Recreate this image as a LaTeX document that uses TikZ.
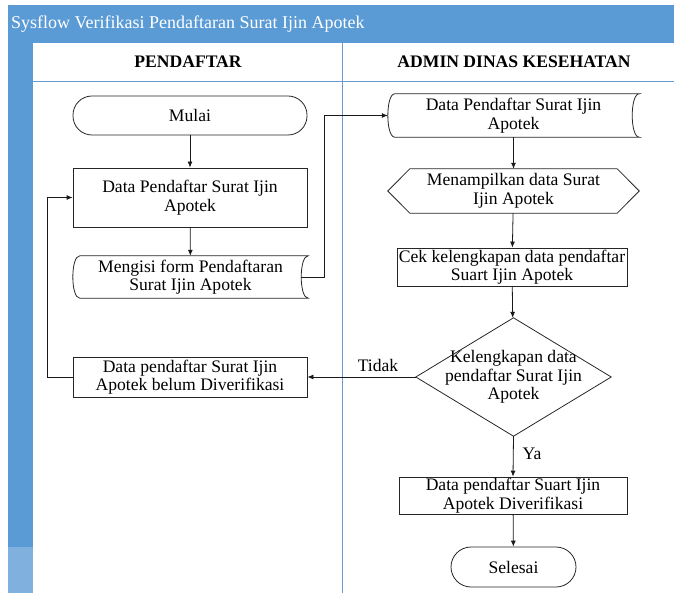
\documentclass[tikz,border=0pt]{standalone}
\usepackage{fontspec}
\setmainfont{Liberation Serif}
\usetikzlibrary{arrows.meta,calc}
\definecolor{laneblue}{HTML}{5B9BD5}
\definecolor{lanefade}{HTML}{7FB0DE}
\definecolor{laneline}{HTML}{6A9BCF}
\begin{document}
\begin{tikzpicture}[x=1pt,y=-1pt,
  every node/.style={font=\fontsize{17.6}{18.5}\selectfont, align=center, inner sep=0pt},
  boxnode/.style={draw=black!85, line width=0.8pt, rectangle},
  termnode/.style={draw=black!85, line width=0.8pt, rectangle, rounded corners=19pt},
  ghost/.style={rectangle, draw=none},
  outline/.style={draw=black!85, line width=0.8pt},
  flow/.style={draw=black!90, line width=0.8pt, -{Latex[length=6pt,width=5pt]}},
  plain/.style={draw=black!90, line width=0.8pt}]
\useasboundingbox (0,0) rectangle (674,593);
% frame
\fill[laneblue] (8,5) rectangle (674,43);
\fill[laneblue] (8,43) rectangle (33,547);
\fill[lanefade] (8,547) rectangle (33,593);
\draw[laneline, line width=0.8pt] (33,81) -- (674,81);
\draw[laneline, line width=0.8pt] (342,43) -- (342,593);
\node[anchor=west, text=white, font=\fontsize{18}{20}\selectfont] (title) at (11,24) {Sysflow Verifikasi Pendaftaran Surat Ijin Apotek};
\node[font=\bfseries\fontsize{17.6}{18.5}\selectfont] (h1) at (188,62) {PENDAFTAR};
\node[font=\bfseries\fontsize{17.6}{18.5}\selectfont] (h2) at (514,62) {ADMIN DINAS KESEHATAN};
% left lane
\node[termnode, minimum width=234pt, minimum height=39pt] (mulai) at (190,115.5) {Mulai};
\node[boxnode, minimum width=234pt, minimum height=59pt] (d1) at (190,197.5) {Data Pendaftar Surat Ijin\\Apotek};
\node[ghost, minimum width=235pt, minimum height=42pt] (m) at (190.5,277) {Mengisi form Pendaftaran\\Surat Ijin Apotek};
\draw[outline] ([xshift=7pt]m.north west) -- (m.north east)
  .. controls ([xshift=-9.3pt]m.north east) and ([xshift=-9.3pt]m.south east) .. (m.south east)
  -- ([xshift=7pt]m.south west)
  .. controls ([xshift=-2.3pt]m.south west) and ([xshift=-2.3pt]m.north west) .. cycle;
\coordinate (mout) at ([xshift=-7pt]m.east);
\node[boxnode, minimum width=234pt, minimum height=40pt] (belum) at (190,377) {Data pendaftar Surat Ijin\\Apotek belum Diverifikasi};
% right lane
\node[ghost, minimum width=251pt, minimum height=43pt] (d2) at (513.5,115.5) {Data Pendaftar Surat Ijin\\Apotek};
\draw[outline] ([xshift=7pt]d2.north west) -- (d2.north east)
  .. controls ([xshift=-9.3pt]d2.north east) and ([xshift=-9.3pt]d2.south east) .. (d2.south east)
  -- ([xshift=7pt]d2.south west)
  .. controls ([xshift=-2.3pt]d2.south west) and ([xshift=-2.3pt]d2.north west) .. cycle;
\node[ghost, minimum width=251pt, minimum height=44pt] (tampil) at (513.5,191) {Menampilkan data Surat\\Ijin Apotek};
\draw[outline] (tampil.west) -- ([xshift=22pt]tampil.north west) -- ([xshift=-22pt]tampil.north east)
  -- (tampil.east) -- ([xshift=-22pt]tampil.south east) -- ([xshift=22pt]tampil.south west) -- cycle;
\node[boxnode, minimum width=230pt, minimum height=38pt] (cek) at (512,267) {Cek kelengkapan data pendaftar\\Suart Ijin Apotek};
\node[ghost, minimum width=195pt, minimum height=118pt] (dia) at (513.5,377) {Kelengkapan data\\pendaftar Surat Ijin\\Apotek};
\draw[outline] (dia.north) -- (dia.east) -- (dia.south) -- (dia.west) -- cycle;
\node[boxnode, minimum width=228pt, minimum height=37pt] (ver) at (513,495.5) {Data pendaftar Suart Ijin\\Apotek Diverifikasi};
\node[termnode, minimum width=125pt, minimum height=40pt, rounded corners=20pt] (sel) at (513.5,567) {Selesai};
% connectors
\draw[flow] (mulai) -- (d1);
\draw[flow] (d1) -- (m);
\draw[flow] (mout) -- (324,277) |- (d2.west);
\draw[flow] (d2) -- (tampil);
\draw[flow] (tampil) -- (cek);
\draw[flow] (cek) -- (dia);
\draw[flow] (dia.west) -- (belum.east);
\draw[flow] (belum.west) -- (47.5,377) |- (d1.west);
\draw[flow] (dia.south) -- (ver.north);
\draw[flow] (ver) -- (sel);
\node (tidak) at (378,365) {Tidak};
\node (ya) at (532,454) {Ya};
\end{tikzpicture}
\end{document}
